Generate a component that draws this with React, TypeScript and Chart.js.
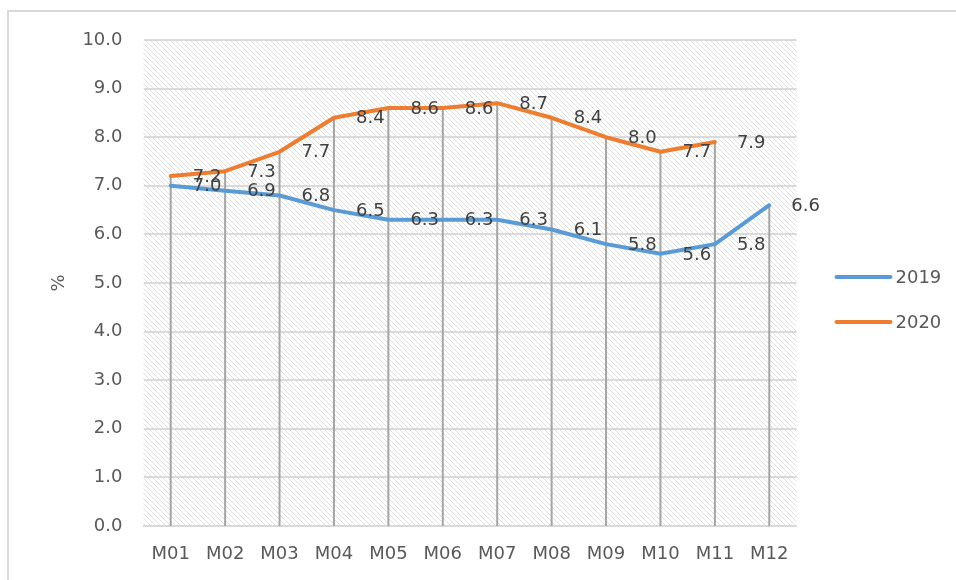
import React, { useEffect, useRef } from "react";
import { Chart, registerables } from "chart.js";

Chart.register(...registerables);

const categories = ["M01", "M02", "M03", "M04", "M05", "M06", "M07", "M08", "M09", "M10", "M11", "M12"];
const series2019 = [7.0, 6.9, 6.8, 6.5, 6.3, 6.3, 6.3, 6.1, 5.8, 5.6, 5.8, 6.6];
const series2020 = [7.2, 7.3, 7.7, 8.4, 8.6, 8.6, 8.7, 8.4, 8.0, 7.7, 7.9, null];
const seriesNames = ["2019", "2020"];
const seriesColors = ["#5B9BD5", "#ED7D31"];
const yTicksMin = 0;
const yTicksMax = 10;
const yStep = 1;
const yTitle = "%";

const FONT = "'DejaVu Sans', sans-serif";
const TEXT = "#595959";

function makePattern(): CanvasPattern | string {
  const n = 5;
  const c = document.createElement("canvas");
  c.width = n;
  c.height = n;
  const g = c.getContext("2d");
  if (!g) return "#f2f2f2";
  g.fillStyle = "#ffffff";
  g.fillRect(0, 0, n, n);
  g.strokeStyle = "#e0e0e0";
  g.lineWidth = 1;
  for (const k of [-n, 0, n]) {
    g.beginPath();
    g.moveTo(k, 0);
    g.lineTo(k + n, n);
    g.stroke();
  }
  const p = g.createPattern(c, "repeat");
  return p || "#f2f2f2";
}

const decorPlugin = {
  id: "decor",
  beforeDraw(chart: any) {
    const { ctx, chartArea } = chart;
    ctx.save();
    ctx.fillStyle = "#d9d9d9";
    ctx.fillRect(7, 10, 2, chart.height);
    ctx.fillRect(7, 10, chart.width, 2);
    ctx.fillStyle = makePattern();
    ctx.fillRect(chartArea.left, chartArea.top, chartArea.right - chartArea.left, chartArea.bottom - chartArea.top);
    ctx.restore();
  },
  beforeDatasetsDraw(chart: any) {
    const { ctx } = chart;
    const xs = chart.scales.x;
    const ys = chart.scales.y;
    ctx.save();
    ctx.strokeStyle = "#a5a5a5";
    ctx.lineWidth = 2;
    categories.forEach((_, i) => {
      const vals = [series2019[i], series2020[i]].filter((v) => v !== null && v !== undefined) as number[];
      if (!vals.length) return;
      const top = Math.max(...vals);
      const x = xs.getPixelForValue(i);
      ctx.beginPath();
      ctx.moveTo(x, ys.getPixelForValue(0));
      ctx.lineTo(x, ys.getPixelForValue(top));
      ctx.stroke();
    });
    ctx.restore();
  },
  afterDatasetsDraw(chart: any) {
    const { ctx, chartArea } = chart;
    ctx.save();
    ctx.font = `18px ${FONT}`;
    ctx.fillStyle = "#404040";
    ctx.textAlign = "left";
    ctx.textBaseline = "middle";
    chart.data.datasets.forEach((ds: any, di: number) => {
      const meta = chart.getDatasetMeta(di);
      ds.data.forEach((v: number | null, i: number) => {
        if (v === null || v === undefined) return;
        const pt = meta.data[i];
        ctx.fillText(v.toFixed(1), pt.x + 22, pt.y + 1);
      });
    });
    const lx = chartArea.right + 40;
    seriesNames.forEach((name, i) => {
      const y = 277 + i * 45;
      ctx.strokeStyle = seriesColors[i];
      ctx.lineWidth = 4;
      ctx.lineCap = "round";
      ctx.beginPath();
      ctx.moveTo(lx, y);
      ctx.lineTo(lx + 54, y);
      ctx.stroke();
      ctx.fillStyle = TEXT;
      ctx.fillText(name, lx + 59, y + 1);
    });
    ctx.restore();
  },
};

export default function App() {
  const ref = useRef<HTMLCanvasElement | null>(null);
  useEffect(() => {
    if (!ref.current) return;
    const chart = new Chart(ref.current, {
      type: "line",
      data: {
        labels: categories,
        datasets: [
          {
            label: seriesNames[0],
            data: series2019,
            borderColor: seriesColors[0],
            backgroundColor: seriesColors[0],
            borderWidth: 4,
            pointRadius: 0,
            tension: 0,
            borderCapStyle: "round",
            borderJoinStyle: "round",
          },
          {
            label: seriesNames[1],
            data: series2020,
            borderColor: seriesColors[1],
            backgroundColor: seriesColors[1],
            borderWidth: 4,
            pointRadius: 0,
            tension: 0,
            borderCapStyle: "round",
            borderJoinStyle: "round",
          },
        ],
      },
      options: {
        animation: false,
        responsive: false,
        devicePixelRatio: 1,
        layout: { padding: { left: 0, top: 40, right: 159.5, bottom: 0 } },
        plugins: { legend: { display: false }, tooltip: { enabled: false } },
        scales: {
          x: {
            offset: true,
            grid: { display: false, drawTicks: false },
            border: { display: true, color: "#d9d9d9", width: 2 },
            ticks: { color: TEXT, font: { family: FONT, size: 18 }, padding: 18, maxRotation: 0, autoSkip: false },
            afterFit(scale: any) {
              scale.height = 54;
            },
          },
          y: {
            min: yTicksMin,
            max: yTicksMax,
            grid: { color: "#dadada", lineWidth: 2, drawTicks: false },
            border: { display: false },
            ticks: {
              stepSize: yStep,
              color: TEXT,
              font: { family: FONT, size: 18 },
              padding: 21,
              callback: (v: any) => Number(v).toFixed(1),
            },
            title: {
              display: true,
              text: yTitle,
              color: TEXT,
              font: { family: FONT, size: 18 },
              padding: { top: 49, bottom: 0 },
            },
            afterFit(scale: any) {
              scale.width = 143.5;
            },
          },
        },
      },
      plugins: [decorPlugin],
    });
    return () => chart.destroy();
  }, []);
  return (
    <div style={{ position: "absolute", left: 0, top: 0, width: 956, height: 580, background: "#fff" }}>
      <canvas ref={ref} width={956} height={580} />
    </div>
  );
}
